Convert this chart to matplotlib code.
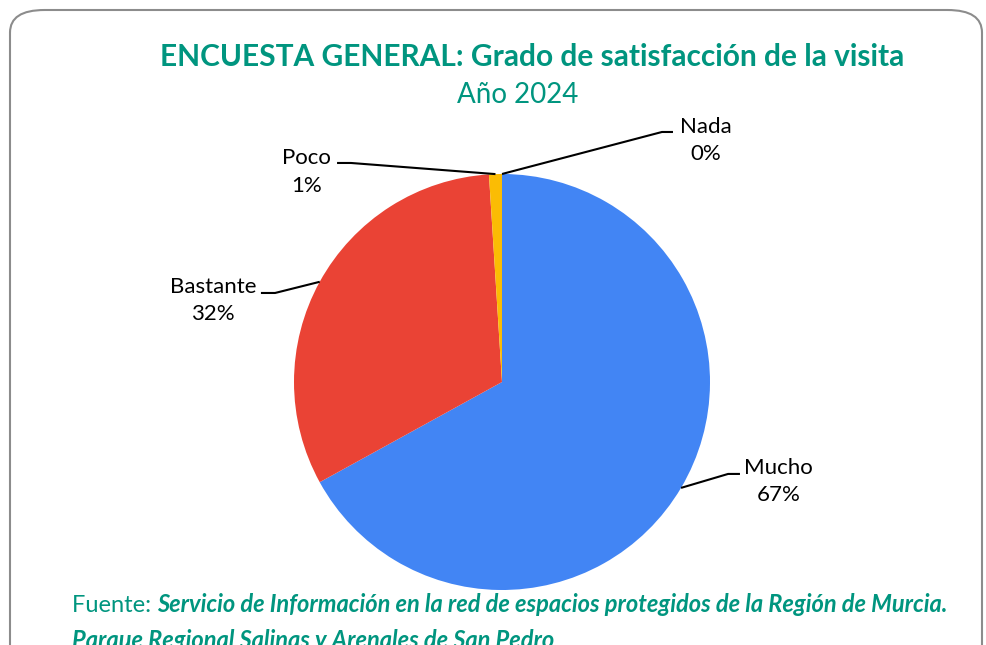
import matplotlib
matplotlib.use("Agg")
import numpy as np
import matplotlib.pyplot as plt
from matplotlib.patches import FancyBboxPatch

# data
categories = ["Mucho", "Bastante", "Poco", "Nada"]
values = [67, 32, 1, 0]
pct_labels = ["67%", "32%", "1%", "0%"]
colors = ["#4285F4", "#EA4335", "#FBBC04", "#34A853"]

title = "ENCUESTA GENERAL: Grado de satisfacción de la visita"
subtitle = "Año 2024"
source_lead = "Fuente: "
source_line1 = "Servicio de Información en la red de espacios protegidos de la Región de Murcia."
source_line2 = "Parque Regional Salinas y Arenales de San Pedro"

teal = "#00957F"
plt.rcParams["font.family"] = ["Lato", "DejaVu Sans"]

W, H = 987, 645
fig = plt.figure(figsize=(W / 100, H / 100), dpi=100)

# rounded border of the chart area
box = FancyBboxPatch((10 / W, -40 / H), 972 / W, (H - 10 + 40) / H,
                     boxstyle="round,pad=0,rounding_size=0.035",
                     transform=fig.transFigure, facecolor="none",
                     edgecolor="#8c8c8c", linewidth=1.5, zorder=-1)
fig.patches.append(box)

fig.text(532 / W, 1 - 57 / H, title, ha="center", va="center",
         fontsize=21.5, fontweight="bold", color=teal)
fig.text(518 / W, 1 - 95 / H, subtitle, ha="center", va="center",
         fontsize=20, color=teal)

# pie axes: centre (502, 382), radius 208 px
cx, cy, r = 502, 382, 208
ax = fig.add_axes([(cx - r) / W, (H - cy - r) / H, 2 * r / W, 2 * r / H])
ax.pie(values, colors=colors, startangle=90, counterclock=False, radius=1,
       wedgeprops=dict(linewidth=0))
ax.set_xlim(-1, 1)
ax.set_ylim(-1, 1)
ax.set_aspect("equal")
ax.axis("off")

# label placements (text centre, elbow, end of the short horizontal)
label_pos = {
    "Mucho": ((1.33, -0.48), (1.087, -0.442), (1.144, -0.442)),
    "Bastante": ((-1.39, 0.39), (-1.091, 0.428), (-1.159, 0.428)),
    "Poco": ((-0.94, 1.01), (-0.726, 1.053), (-0.793, 1.053)),
    "Nada": ((0.98, 1.16), (0.769, 1.202), (0.822, 1.202)),
}

total = sum(values)
cum = 0
for cat, v, pl in zip(categories, values, pct_labels):
    mid = cum + v / 2
    ang = np.deg2rad(90 - 360 * mid / total)
    x0, y0 = np.cos(ang), np.sin(ang)
    cum += v
    (tx, ty), (ex, ey), (hx, hy) = label_pos[cat]
    ax.plot([x0, ex, hx], [y0, ey, hy], color="black", lw=1.5,
            clip_on=False, solid_capstyle="butt")
    ax.text(tx, ty, f"{cat}\n{pl}", ha="center", va="center", fontsize=16,
            linespacing=1.45, color="black", clip_on=False)

# source footer
t1 = fig.text(72 / W, 1 - 612 / H, source_lead, ha="left", va="baseline",
              fontsize=17, color=teal)
ax.annotate(source_line1, xy=(1, 0), xycoords=t1,
            ha="left", va="bottom", fontsize=17, color=teal,
            fontweight="bold", fontstyle="italic", annotation_clip=False)
fig.text(72 / W, 1 - 648 / H, source_line2, ha="left", va="baseline",
         fontsize=17, color=teal, fontweight="bold", fontstyle="italic")

fig.savefig("out.png", dpi=100)
